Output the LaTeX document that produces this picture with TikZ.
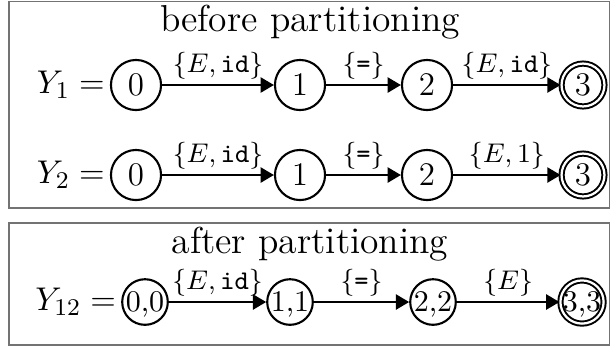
\documentclass[tikz,border=0pt]{standalone}
\usetikzlibrary{arrows.meta}
\newcommand{\tightlbl}[1]{\smash{\makebox[0pt]{#1}}\vphantom{0}}
\begin{document}
\begin{tikzpicture}[x=0.3333pt,y=-0.3333pt,
  st/.style={circle,draw,line width=0.7pt,minimum size=16.7pt,inner sep=0pt,font=\fontsize{11}{13}\selectfont},
  acc/.style={st,double,line width=0.65pt,double distance=0.75pt,minimum size=14.3pt},
  stb/.style={circle,draw,line width=0.7pt,minimum size=15.2pt,inner sep=0pt,font=\fontsize{10}{12}\selectfont},
  accb/.style={stb,double,line width=0.65pt,double distance=0.75pt,minimum size=14.4pt},
  edge/.style={line width=0.75pt,-{Triangle[length=4.4pt,width=5pt]}},
  lab/.style={above,inner sep=1.5pt,font=\fontsize{9}{11}\selectfont},
  frame/.style={draw=black!55,line width=0.5pt},
  ttl/.style={anchor=base,inner sep=0pt,font=\fontsize{12.5}{15}\selectfont},
  eqn/.style={anchor=east,inner sep=1.5pt,font=\fontsize{11}{13}\selectfont}]
\useasboundingbox (0,0) rectangle (611,349);
\draw[frame] (9,1.5) rectangle (609.5,208);
\draw[frame] (9,223) rectangle (609.5,345);
\node[ttl] (t1) at (310,31) {before partitioning};
\node[ttl] (t2) at (310,253) {after partitioning};
% row 1
\node[st] (a0) at (136,85) {0};
\node[st] (a1) at (300,85) {1};
\node[st] (a2) at (427,85) {2};
\node[acc] (a3) at (583,85) {3};
\node[eqn] (y1) at (a0.west) {$Y_1 =$};
\draw[edge] (a0) -- node[lab]{$\{E,\texttt{id}\}$} (a1);
\draw[edge] (a1) -- node[lab]{$\{\texttt{=}\}$} (a2);
\draw[edge] (a2) -- node[lab]{$\{E,\texttt{id}\}$} (a3);
% row 2
\node[st] (b0) at (136,175) {0};
\node[st] (b1) at (300,175) {1};
\node[st] (b2) at (427,175) {2};
\node[acc] (b3) at (583,175) {3};
\node[eqn] (y2) at (b0.west) {$Y_2 =$};
\draw[edge] (b0) -- node[lab]{$\{E,\texttt{id}\}$} (b1);
\draw[edge] (b1) -- node[lab]{$\{\texttt{=}\}$} (b2);
\draw[edge] (b2) -- node[lab]{$\{E,1\}$} (b3);
% row 3
\node[stb] (c0) at (145,302) {\tightlbl{0,0}};
\node[stb] (c1) at (290,302) {\tightlbl{1,1}};
\node[stb] (c2) at (433,302) {\tightlbl{2,2}};
\node[accb] (c3) at (582,302) {\tightlbl{3,3}};
\node[eqn] (y3) at (c0.west) {$Y_{12} =$};
\draw[edge] (c0) -- node[lab]{$\{E,\texttt{id}\}$} (c1);
\draw[edge] (c1) -- node[lab]{$\{\texttt{=}\}$} (c2);
\draw[edge] (c2) -- node[lab]{$\{E\}$} (c3);
\end{tikzpicture}
\end{document}
